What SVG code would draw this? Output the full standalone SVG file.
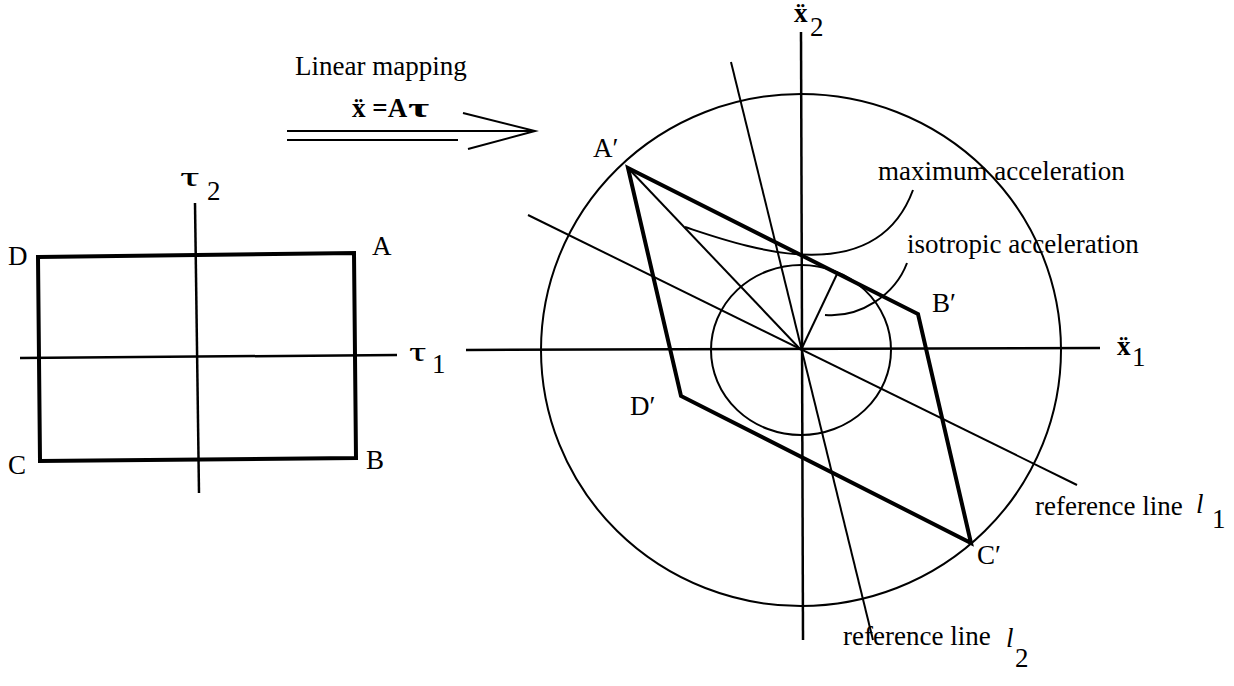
<svg xmlns="http://www.w3.org/2000/svg" width="1234" height="686" viewBox="0 0 1234 686">
<style>
text{font-family:"Liberation Serif","Times New Roman",serif;font-size:27px;fill:#000}
.b{font-weight:bold}
.it{font-style:italic}
.thin{stroke:#000;stroke-width:2;fill:none}
.axis{stroke:#000;stroke-width:2.5;fill:none}
.thick{stroke:#000;stroke-width:4;fill:none;stroke-linejoin:miter}
</style>
<rect width="1234" height="686" fill="#fff"/>

<g id="mapping-arrow">
<line class="thin" x1="287" y1="131" x2="535" y2="131" stroke-width="2.5"/>
<line class="thin" x1="287" y1="140" x2="458" y2="140" stroke-width="2.5"/>
<polyline class="thin" points="463,113 535,131 468,149" stroke-width="2.5"/>
<text x="295" y="75">Linear mapping</text>
<text class="b" x="352" y="117">ẍ =A</text>
<text class="b" transform="translate(408,117) scale(1.7,1)" x="0" y="0">τ</text>
</g>

<g id="input-space">
<line class="axis" x1="20" y1="358" x2="397" y2="355"/>
<line class="axis" x1="195" y1="203" x2="199" y2="493"/>
<polygon class="thick" points="38,257 354,253 356,458 40,461"/>
<text transform="translate(180,186) scale(1.8,1)" x="0" y="0">τ</text><text x="207" y="200">2</text>
<text transform="translate(409,361) scale(1.6,1)" x="0" y="0">τ</text><text x="432" y="373">1</text>
<text x="8" y="265">D</text>
<text x="372" y="255">A</text>
<text x="8" y="474">C</text>
<text x="366" y="469">B</text>
</g>

<g id="output-space">
<ellipse class="thin" cx="801" cy="350" rx="260" ry="256"/>
<ellipse class="thin" cx="801" cy="350" rx="90" ry="85"/>
<line class="axis" x1="466" y1="350" x2="1100" y2="348"/>
<line class="axis" x1="801" y1="32" x2="803" y2="640"/>
<line class="thin" x1="528" y1="215" x2="1077" y2="485"/>
<line class="thin" x1="731" y1="62" x2="873" y2="640"/>
<line class="thin" x1="628" y1="168" x2="801" y2="350"/>
<line class="thin" x1="801" y1="350" x2="838" y2="272"/>
<polygon class="thick" points="628,168 918,314 971,543 681,396"/>
<path class="thin" d="M685,227 C740,245 874,295 913,190"/>
<path class="thin" d="M907,263 C895,295 860,318 825,315"/>
<text class="b" x="794" y="22">ẍ</text><text x="810" y="36" font-size="30">2</text>
<text class="b" x="1117" y="355">ẍ</text><text x="1132" y="366">1</text>
<text x="593" y="157">A′</text>
<text x="932" y="312">B′</text>
<text x="977" y="564">C′</text>
<text x="630" y="415">D′</text>
<text x="878" y="180">maximum acceleration</text>
<text x="907" y="253">isotropic acceleration</text>
<text x="1035" y="515">reference line</text><text class="it" x="1196" y="513">l</text><text x="1212" y="528">1</text>
<text x="843" y="645">reference line</text><text class="it" x="1006" y="647">l</text><text x="1015" y="667">2</text>
</g>
</svg>
